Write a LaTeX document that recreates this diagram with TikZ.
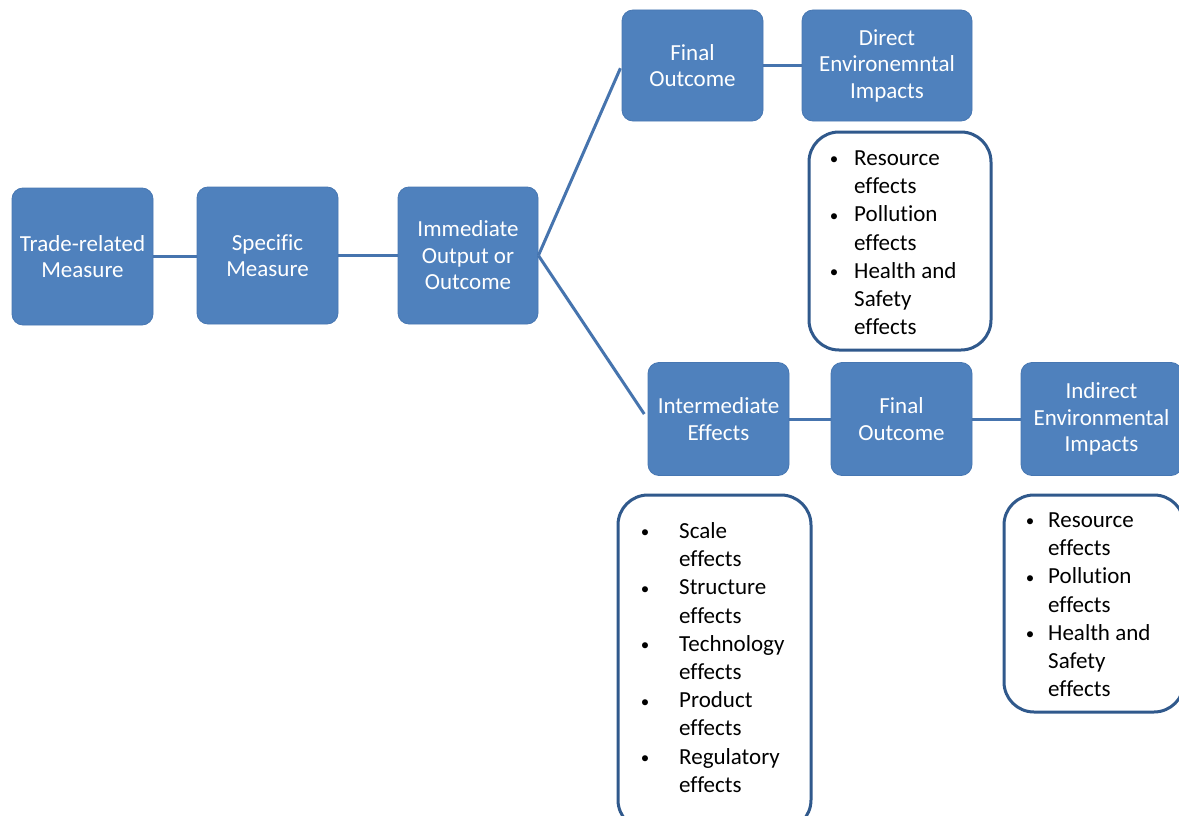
\documentclass[tikz,border=0pt]{standalone}
\usepackage{fontspec}
\setmainfont{Carlito}[Ligatures=NoCommon]
\definecolor{boxfill}{HTML}{4F81BD}
\definecolor{boxedge}{HTML}{4777B2}
\definecolor{linkcol}{HTML}{4674AE}
\definecolor{listedge}{HTML}{30598C}
% small list bullet
\newcommand\dotmark{\makebox[20pt]{\raisebox{0.5pt}{\fontsize{17}{17}\selectfont\textbullet}}}
\begin{document}
\begin{tikzpicture}[x=1pt,y=-1pt,
  blk/.style={rectangle, rounded corners=11pt, fill=boxfill, draw=boxedge,
    line width=0.8pt, text=white, align=center,
    font=\fontsize{23}{26.5}\selectfont, inner sep=0pt},
  link/.style={draw=linkcol, line width=3pt},
  listbox/.style={rectangle, rounded corners=30pt, draw=listedge,
    line width=3pt, fill=white, inner sep=0pt},
  listtext/.style={anchor=north west, inner sep=0pt,
    font=\fontsize{23}{28.2}\selectfont, text=black, align=left}]
\clip (0,0) rectangle (1179,816);
\fill[white] (0,0) rectangle (1179,816);

% main chain
\node[blk, minimum width=141pt, minimum height=137pt] (trade) at (82.5,256.5) {Trade-related\\Measure};
\node[blk, minimum width=141pt, minimum height=137pt] (spec) at (267.5,255.5) {Specific\\Measure};
\node[blk, minimum width=140pt, minimum height=137pt] (imm) at (468,255.5) {Immediate\\Output or\\Outcome};

% upper branch
\node[blk, minimum width=141pt, minimum height=111pt] (fo1) at (692.5,65.5) {Final\\Outcome};
\node[blk, minimum width=170pt, minimum height=111pt] (dir) at (887,65.5) {Direct\\Environemntal\\Impacts};

% lower branch
\node[blk, minimum width=141pt, minimum height=113pt] (inter) at (718.5,419) {Intermediate\\Effects};
\node[blk, minimum width=141pt, minimum height=113pt] (fo2) at (901.5,419) {Final\\Outcome};
\node[blk, minimum width=161pt, minimum height=113pt] (ind) at (1101.5,419) {Indirect\\Environmental\\Impacts};

% effect lists
\node[listbox, minimum width=182pt, minimum height=218pt] (dbox) at (900,241) {};
\node[listtext] (dlist) at (824,145.5) {%
  \begin{tabular}{@{}c@{\hspace{10pt}}l@{}}
  \dotmark & Resource\\
   & effects\\
  \dotmark & Pollution\\
   & effects\\
  \dotmark & Health and\\
   & Safety\\
   & effects
  \end{tabular}};

\node[listbox, minimum width=193pt, minimum height=335pt] (ibox) at (714.5,662.5) {};
\node[listtext] (ilist) at (635,518.5) {%
  \begin{tabular}{@{}c@{\hspace{24pt}}l@{}}
  \dotmark & Scale\\
   & effects\\
  \dotmark & Structure\\
   & effects\\
  \dotmark & Technology\\
   & effects\\
  \dotmark & Product\\
   & effects\\
  \dotmark & Regulatory\\
   & effects
  \end{tabular}};

\node[listbox, minimum width=180pt, minimum height=217pt] (rbox) at (1094,603.5) {};
\node[listtext] (rlist) at (1020,507.5) {%
  \begin{tabular}{@{}c@{\hspace{8pt}}l@{}}
  \dotmark & Resource\\
   & effects\\
  \dotmark & Pollution\\
   & effects\\
  \dotmark & Health and\\
   & Safety\\
   & effects
  \end{tabular}};

% connectors
\draw[link] (trade.east) -- (trade.east -| spec.west);
\draw[link] (spec.east) -- (spec.east -| imm.west);
\draw[link, shorten >=3pt] (imm.east) -- (fo1.west);
\draw[link, shorten >=6pt] (imm.east) -- (inter.west);
\draw[link] (fo1.east) -- (dir.west);
\draw[link] (inter.east) -- (fo2.west);
\draw[link] (fo2.east) -- (ind.west);
\end{tikzpicture}
\end{document}
